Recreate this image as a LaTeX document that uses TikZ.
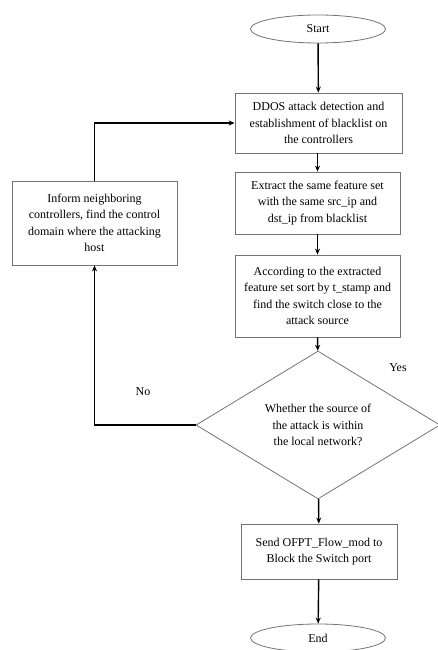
\documentclass[tikz,border=0pt]{standalone}
\usepackage{fontspec}
\setmainfont{Liberation Serif}
\usetikzlibrary{arrows.meta,shapes,positioning}

\begin{document}
\begin{tikzpicture}[x=1pt,y=1pt,>={Stealth[length=6pt,width=5pt]},
  blk/.style={draw=black!55,line width=0.8pt,rectangle,align=center,inner sep=2pt,font=\fontsize{12}{16.5}\selectfont},
  term/.style={draw=black!55,line width=0.8pt,ellipse,minimum width=135pt,minimum height=28pt,inner sep=0pt,font=\fontsize{12}{14}\selectfont},
  dec/.style={draw=black!55,line width=0.8pt,diamond,minimum width=244pt,minimum height=122pt,inner sep=0pt,align=center,font=\fontsize{12}{16.5}\selectfont},
  flow/.style={->,line width=1.4pt,black}]
  \useasboundingbox (0,0) rectangle (437,-650);

  \node[term] (start) at (318,-29) {Start};
  \node[blk,minimum width=167pt,minimum height=60pt] (detect) at (318.5,-123) {DDOS attack detection and\\establishment of blacklist on\\the controllers};
  \node[blk,minimum width=165pt,minimum height=62pt] (extract) at (317.5,-203) {Extract the same feature set\\with the same src\_ip and\\dst\_ip from blacklist};
  \node[blk,minimum width=165pt,minimum height=82pt] (sort) at (317.5,-296) {According to the extracted\\feature set sort by t\_stamp and\\find the switch close to the\\attack source};
  \node[blk,minimum width=165pt,minimum height=84pt] (inform) at (94.5,-223) {Inform neighboring\\controllers, find the control\\domain where the attacking\\host};
  \node[dec] (local) at (318,-425) {Whether the source of\\the attack is within\\the local network?};
  \node[blk,minimum width=156pt,minimum height=55pt] (block) at (319,-551.5) {Send OFPT\_Flow\_mod to\\Block the Switch port};
  \node[term] (end) at (318,-638) {End};

  \draw[flow] (start) -- (detect);
  \draw[flow] (detect.south -| extract.north) -- (extract);
  \draw[flow] (extract) -- (sort);
  \draw[flow] (sort) -- (local);
  \draw[flow] (local) -- (block);
  \draw[flow] (block) -- (end);
  \draw[flow] (local.west) -| (inform.south);
  \draw[flow] (inform.north) |- (detect.west);

  \node[font=\fontsize{12}{14}\selectfont] (yes) at (398,-368) {Yes};
  \node[font=\fontsize{12}{14}\selectfont] (no) at (143,-392) {No};
\end{tikzpicture}
\end{document}
